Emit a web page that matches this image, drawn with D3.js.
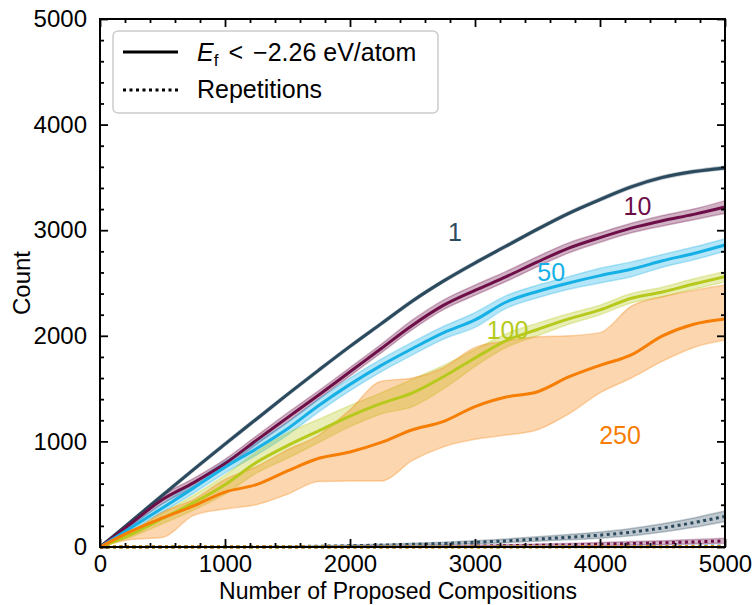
<!DOCTYPE html>
<html>
<head>
<meta charset="utf-8">
<script src="https://cdn.jsdelivr.net/npm/d3@7"></script>
<style>
    body { margin: 0; background: white; }
    svg text { font-family: "Liberation Sans", Arial, sans-serif; }
</style>
</head>
<body>
<div id="chart"></div>
<script>
// proposed compositions (x grid)
const steps = [0, 250, 500, 750, 1000, 1250, 1500, 1750, 2000, 2250, 2500,
    2750, 3000, 3250, 3500, 3750, 4000, 4250, 4500, 4750, 5000];

// count of compositions below the formation energy threshold, per batch size
const batchSizes = ["1", "10", "50", "100", "250"];
const colors = ["#2b4a5e", "#6d0e48", "#16b0e6", "#b6c91c", "#f67e04"];

const mean1 = [0, 245, 490, 735, 975, 1210, 1445, 1675, 1900, 2115, 2330, 2520, 2690, 2850, 3010, 3160, 3290, 3410, 3500, 3555, 3590];
const hi1 = [0, 255, 505, 750, 990, 1225, 1460, 1690, 1915, 2130, 2345, 2535, 2705, 2865, 3025, 3175, 3305, 3425, 3515, 3570, 3605];
const lo1 = [0, 235, 475, 720, 960, 1195, 1430, 1660, 1885, 2100, 2315, 2505, 2675, 2835, 2995, 3145, 3275, 3395, 3485, 3540, 3575];

const mean10 = [0, 225, 450, 610, 790, 1010, 1225, 1440, 1660, 1880, 2100, 2290, 2430, 2560, 2700, 2830, 2930, 3020, 3090, 3150, 3220];
const hi10 = [0, 250, 490, 650, 830, 1050, 1270, 1480, 1700, 1920, 2150, 2340, 2480, 2610, 2750, 2880, 2975, 3065, 3140, 3200, 3280];
const lo10 = [0, 200, 410, 565, 750, 970, 1180, 1400, 1620, 1840, 2060, 2250, 2385, 2515, 2655, 2785, 2885, 2975, 3040, 3100, 3160];

const mean50 = [0, 185, 370, 560, 755, 930, 1120, 1340, 1540, 1720, 1880, 2030, 2150, 2320, 2420, 2500, 2570, 2630, 2710, 2780, 2860];
const hi50 = [0, 210, 410, 610, 810, 990, 1180, 1400, 1600, 1780, 1940, 2090, 2220, 2380, 2480, 2560, 2640, 2700, 2770, 2840, 2920];
const lo50 = [0, 160, 330, 510, 700, 870, 1060, 1280, 1480, 1660, 1820, 1970, 2080, 2260, 2360, 2440, 2500, 2560, 2650, 2720, 2800];

const mean100 = [0, 120, 270, 420, 590, 800, 960, 1100, 1240, 1360, 1460, 1615, 1790, 1955, 2060, 2160, 2245, 2355, 2415, 2490, 2560];
const hi100 = [0, 150, 320, 490, 680, 900, 1080, 1210, 1340, 1460, 1590, 1720, 1870, 2020, 2120, 2210, 2290, 2400, 2460, 2540, 2610];
const lo100 = [0, 95, 220, 350, 500, 700, 840, 990, 1140, 1260, 1330, 1500, 1710, 1890, 2000, 2110, 2200, 2310, 2370, 2440, 2510];

const mean250 = [0, 150, 275, 390, 520, 590, 720, 840, 900, 990, 1110, 1190, 1330, 1420, 1470, 1610, 1720, 1820, 2000, 2110, 2160];
const hi250 = [0, 140, 330, 450, 640, 760, 920, 1060, 1300, 1570, 1600, 1700, 1890, 1950, 1990, 2000, 2030, 2280, 2370, 2430, 2480];
const lo250 = [0, 70, 90, 300, 360, 400, 500, 620, 625, 625, 820, 950, 1020, 1060, 1110, 1260, 1460, 1600, 1760, 1890, 1960];

// repetitions (dotted)
const rep1 = [0, 0, 0, 0, 0, 2, 4, 7, 12, 18, 25, 33, 45, 58, 75, 92, 112, 140, 180, 230, 290];
const repHi1 = [0, 0, 0, 0, 0, 5, 8, 12, 18, 26, 35, 45, 60, 76, 96, 118, 142, 175, 220, 275, 340];
const repLo1 = [0, 0, 0, 0, 0, 0, 1, 3, 7, 11, 16, 22, 31, 41, 55, 68, 84, 106, 142, 186, 242];
const rep10 = [0, 0, 0, 0, 0, 0, 0, 1, 2, 3, 4, 6, 9, 12, 16, 20, 26, 33, 40, 48, 58];
const repHi10 = [0, 0, 0, 0, 0, 0, 1, 3, 5, 7, 9, 12, 17, 22, 28, 34, 42, 51, 60, 70, 82];
const repLo10 = [0, 0, 0, 0, 0, 0, 0, 0, 0, 0, 1, 2, 3, 5, 7, 9, 12, 17, 22, 28, 36];
const rep50 = [0, 0, 0, 0, 0, 0, 0, 0, 0, 1, 1, 2, 2, 3, 3, 4, 5, 6, 7, 8, 10];
const rep100 = [0, 0, 0, 0, 0, 0, 0, 0, 0, 0, 0, 1, 1, 1, 2, 2, 2, 3, 3, 4, 5];
const rep250 = [0, 0, 0, 0, 0, 0, 0, 0, 0, 0, 0, 0, 1, 1, 1, 1, 2, 2, 2, 3, 3];

// curve labels, placed in data coordinates
const labelX = [2840, 4300, 3610, 3260, 4160];
const labelY = [2980, 3230, 2600, 2055, 1060];

const xTicks = [0, 1000, 2000, 3000, 4000, 5000];
const yTicks = [0, 1000, 2000, 3000, 4000, 5000];

const width = 754, height = 605;
const margin = { left: 100, right: 29, top: 19, bottom: 58 };
const tickFont = 24;

const x = d3.scaleLinear().domain([0, 5000]).range([margin.left, width - margin.right]);
const y = d3.scaleLinear().domain([0, 5000]).range([height - margin.bottom, margin.top]);

const svg = d3.select("#chart").append("svg")
    .attr("width", width)
    .attr("height", height);

const series = [
    { mean: mean1, lo: lo1, hi: hi1, rep: rep1, repLo: repLo1, repHi: repHi1 },
    { mean: mean10, lo: lo10, hi: hi10, rep: rep10, repLo: repLo10, repHi: repHi10 },
    { mean: mean50, lo: lo50, hi: hi50, rep: rep50 },
    { mean: mean100, lo: lo100, hi: hi100, rep: rep100 },
    { mean: mean250, lo: lo250, hi: hi250, rep: rep250 }
];

const line = d3.line().x((d, i) => x(steps[i])).y(d => y(d)).curve(d3.curveMonotoneX);
const dotted = d3.line().x((d, i) => x(steps[i])).y(d => y(d));
const area = (lo, hi) => d3.area()
    .x((d, i) => x(steps[i]))
    .y0((d, i) => y(lo[i]))
    .y1((d, i) => y(hi[i]))
    .curve(d3.curveMonotoneX)(steps);

const plot = svg.append("g");

// bands go below every line (like matplotlib zorder)
series.forEach((s, k) => {
    plot.append("path")
        .attr("d", area(s.lo, s.hi))
        .attr("fill", colors[k])
        .attr("fill-opacity", 0.32)
        .attr("stroke", colors[k])
        .attr("stroke-opacity", 0.3)
        .attr("stroke-width", 1.5);
    if (s.repLo) {
        plot.append("path")
            .attr("d", area(s.repLo, s.repHi))
            .attr("fill", colors[k])
            .attr("fill-opacity", 0.3)
            .attr("stroke", colors[k])
            .attr("stroke-opacity", 0.3)
            .attr("stroke-width", 1.5);
    }
});

series.forEach((s, k) => {
    plot.append("path")
        .attr("d", line(s.mean))
        .attr("fill", "none")
        .attr("stroke", colors[k])
        .attr("stroke-width", 3)
        .attr("stroke-linejoin", "round");
    plot.append("path")
        .attr("d", dotted(s.rep))
        .attr("fill", "none")
        .attr("stroke", colors[k])
        .attr("stroke-width", 3)
        .attr("stroke-dasharray", "3,3.5");
});

// curve labels
svg.append("g").selectAll("text")
    .data(batchSizes)
    .join("text")
    .attr("x", (d, i) => x(labelX[i]))
    .attr("y", (d, i) => y(labelY[i]))
    .attr("text-anchor", "middle")
    .attr("dominant-baseline", "central")
    .attr("font-size", 25)
    .attr("fill", (d, i) => colors[i])
    .text(d => d);

// axes: ticks point inward on all four sides
const minor = d3.range(0, 5001, 200).filter(v => v % 1000 !== 0);
function drawAxis(axisGen, transform, ticks, labels) {
    const major = svg.append("g").attr("transform", transform)
        .call(axisGen.tickValues(ticks).tickSize(-8).tickFormat(labels ? d3.format("d") : ""));
    const mnr = svg.append("g").attr("transform", transform)
        .call(axisGen.tickValues(minor).tickSize(-4).tickFormat(""));
    [major, mnr].forEach(g => {
        g.select(".domain").remove();
        g.selectAll(".tick line").attr("stroke", "black").attr("stroke-width", 1.8);
    });
    major.selectAll(".tick text")
        .attr("font-size", tickFont)
        .attr("fill", "black")
        .attr("font-family", "Liberation Sans, Arial, sans-serif");
    return major;
}

const xb = drawAxis(d3.axisBottom(x), `translate(0,${y(0)})`, xTicks, true);
xb.selectAll(".tick text").attr("dy", "0.71em").attr("y", 8);
drawAxis(d3.axisTop(x), `translate(0,${y(5000)})`, xTicks, false);
const yl = drawAxis(d3.axisLeft(y), `translate(${x(0)},0)`, yTicks, true);
yl.selectAll(".tick text").attr("x", -13);
drawAxis(d3.axisRight(y), `translate(${x(5000)},0)`, yTicks, false);

svg.append("rect")
    .attr("x", x(0)).attr("y", y(5000))
    .attr("width", x(5000) - x(0)).attr("height", y(0) - y(5000))
    .attr("fill", "none").attr("stroke", "black").attr("stroke-width", 2);

// axis titles
svg.append("text")
    .attr("x", 398)
    .attr("y", 599)
    .attr("text-anchor", "middle")
    .attr("font-size", 23)
    .text("Number of Proposed Compositions");

svg.append("text")
    .attr("transform", `translate(30,${(y(0) + y(5000)) / 2}) rotate(-90)`)
    .attr("text-anchor", "middle")
    .attr("font-size", 24)
    .text("Count");

// legend
const legend = svg.append("g");
legend.append("rect")
    .attr("x", 113).attr("y", 31)
    .attr("width", 325).attr("height", 82)
    .attr("rx", 5)
    .attr("fill", "white").attr("fill-opacity", 0.85)
    .attr("stroke", "#cccccc").attr("stroke-width", 1.5);
legend.append("line")
    .attr("x1", 123).attr("x2", 178).attr("y1", 52).attr("y2", 52)
    .attr("stroke", "black").attr("stroke-width", 3);
legend.append("line")
    .attr("x1", 123).attr("x2", 178).attr("y1", 90).attr("y2", 90)
    .attr("stroke", "black").attr("stroke-width", 3)
    .attr("stroke-dasharray", "3,3.5");

const t1 = legend.append("text").attr("x", 197).attr("y", 61).attr("font-size", 25);
t1.append("tspan").attr("font-style", "italic").text("E");
t1.append("tspan").attr("font-size", 17).attr("dy", 5).text("f");
t1.append("tspan").attr("dy", -5).attr("dx", 10).text("<");
t1.append("tspan").attr("dx", 10).text("\u22122.26 eV/atom");

legend.append("text").attr("x", 197).attr("y", 98).attr("font-size", 25).text("Repetitions");
</script>
</body>
</html>
